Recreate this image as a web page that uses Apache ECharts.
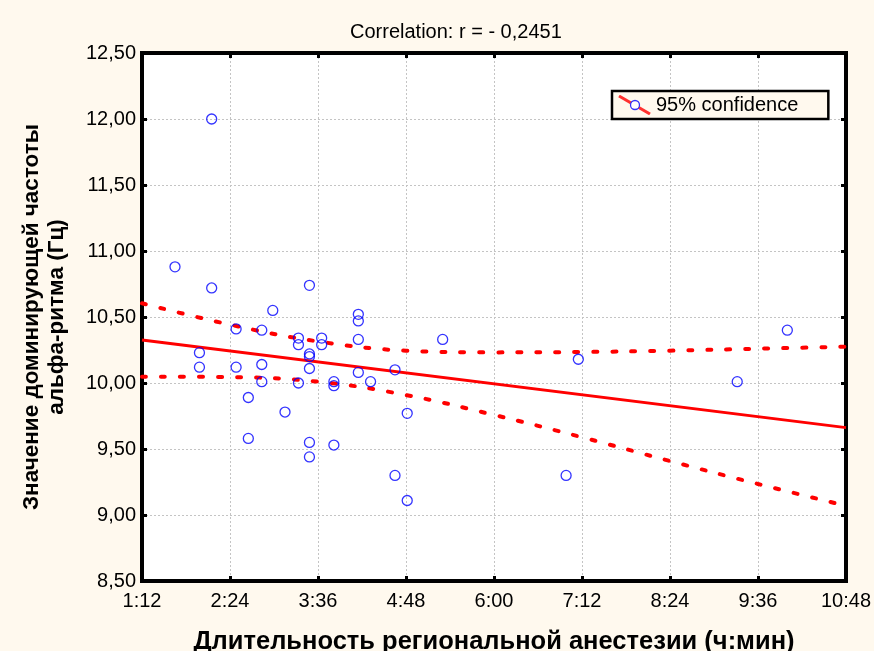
<!DOCTYPE html>
<html>
<head>
<meta charset="utf-8">
<script src="https://cdn.jsdelivr.net/npm/echarts@6/dist/echarts.min.js"></script>
<style>
  html, body { margin: 0; padding: 0; background: #fff9ee; }
  #chart { width: 874px; height: 651px; }
</style>
</head>
<body>
<div id="chart"></div>
<script>
// длительность анестезии в минутах, частота альфа-ритма в Гц
var durationMin = [99, 119, 119, 129, 129, 149, 149, 159, 159, 170, 170, 170, 179, 189, 200, 200, 200,
  209, 209, 209, 209, 209, 209, 219, 219, 229, 229, 229, 249, 249, 249, 249, 259, 279, 279, 289, 289,
  318, 419, 429, 559, 600];
var alphaHz = [10.88, 10.23, 10.12, 12.00, 10.72, 10.41, 10.12, 9.89, 9.58, 10.40, 10.14, 10.01, 10.55,
  9.78, 10.34, 10.29, 10.00, 10.74, 10.22, 10.20, 10.11, 9.55, 9.44, 10.34, 10.29, 10.01, 9.98, 9.53,
  10.52, 10.47, 10.33, 10.08, 10.01, 10.10, 9.30, 9.77, 9.11, 10.33, 9.30, 10.18, 10.01, 10.40];

// линия регрессии и доверительные границы
var fitLine = [[72, 10.325], [648, 9.662]];
var bandX = [72, 144, 216, 288, 360, 432, 504, 576, 648];
var upperBand = [10.604, 10.442, 10.315, 10.245, 10.232, 10.235, 10.245, 10.260, 10.275];
var lowerBand = [10.048, 10.045, 10.010, 9.909, 9.758, 9.589, 9.409, 9.235, 9.070];

var xTicks = ['1:12', '2:24', '3:36', '4:48', '6:00', '7:12', '8:24', '9:36', '10:48'];

var chart = echarts.init(document.getElementById('chart'));

var fmtTime = function (v) {
  var h = Math.floor(v / 60);
  var m = Math.round(v - h * 60);
  return h + ':' + (m < 10 ? '0' + m : m);
};
var pairs = function (xs, ys) {
  return xs.map(function (x, i) { return [x, ys[i]]; });
};

var legendSvg = '<svg xmlns="http://www.w3.org/2000/svg" width="34" height="20" viewBox="0 0 34 20">' +
  '<line x1="2" y1="1" x2="33" y2="19" stroke="#ff0000" stroke-width="3"/>' +
  '<circle cx="18" cy="10" r="4.5" fill="#ffffff" stroke="#0000ff" stroke-width="1.3"/></svg>';

var gridLine = { show: true, lineStyle: { color: '#c4c4c4', width: 1, type: [2, 2] } };
var frame = { show: true, lineStyle: { color: '#000', width: 4 } };
var tick = { show: true, inside: true, length: 5, lineStyle: { color: '#000', width: 3 } };
var font = 'Liberation Sans, Arial, sans-serif';

var option = {
  backgroundColor: '#fff9ee',
  animation: false,
  textStyle: { fontFamily: font, color: '#000' },
  title: {
    text: 'Correlation: r = - 0,2451',
    left: 345,
    top: 17,
    textStyle: { fontSize: 20, fontWeight: 'normal', color: '#000', fontFamily: font }
  },
  legend: {
    left: 612,
    top: 91,
    orient: 'horizontal',
    selectedMode: false,
    backgroundColor: '#fff9ee',
    borderColor: '#000',
    borderWidth: 2.5,
    borderRadius: 0,
    padding: [4, 30, 4, 5],
    itemWidth: 34,
    itemHeight: 20,
    textStyle: { fontSize: 20, color: '#000', fontFamily: font },
    data: [{
      name: '95% confidence',
      icon: 'image://data:image/svg+xml;charset=utf-8,' + encodeURIComponent(legendSvg)
    }]
  },
  grid: {
    left: 142,
    top: 53,
    width: 704,
    height: 528,
    outerBoundsMode: 'none',
    containLabel: false,
    show: true,
    backgroundColor: '#ffffff',
    borderColor: '#000',
    borderWidth: 4
  },
  xAxis: [{
    type: 'value',
    min: 72,
    max: 648,
    interval: 72,
    name: 'Длительность региональной анестезии (ч:мин)',
    nameLocation: 'middle',
    nameGap: 48,
    nameTextStyle: { fontSize: 25.5, fontWeight: 'bold', color: '#000', fontFamily: font },
    axisLine: frame,
    axisTick: tick,
    axisLabel: {
      fontSize: 20, color: '#000', margin: 10,
      formatter: function (v) { return xTicks[Math.round((v - 72) / 72)] || fmtTime(v); }
    },
    splitLine: gridLine
  }, {
    type: 'value',
    position: 'top',
    min: 72,
    max: 648,
    interval: 72,
    axisLine: frame,
    axisTick: tick,
    axisLabel: { show: false },
    splitLine: { show: false }
  }],
  yAxis: [{
    type: 'value',
    min: 8.5,
    max: 12.5,
    interval: 0.5,
    name: 'Значение доминирующей частоты\nальфа-ритма (Гц)',
    nameLocation: 'middle',
    nameGap: 73,
    nameTextStyle: { fontSize: 22.5, fontWeight: 'bold', color: '#000', lineHeight: 25, fontFamily: font },
    axisLine: frame,
    axisTick: tick,
    axisLabel: {
      fontSize: 20, color: '#000', margin: 6,
      formatter: function (v) { return v.toFixed(2).replace('.', ','); }
    },
    splitLine: gridLine
  }, {
    type: 'value',
    position: 'right',
    min: 8.5,
    max: 12.5,
    interval: 0.5,
    axisLine: frame,
    axisTick: tick,
    axisLabel: { show: false },
    splitLine: { show: false }
  }],
  series: [{
    name: 'fit',
    type: 'line',
    data: fitLine,
    symbol: 'none',
    lineStyle: { color: '#ff0000', width: 3 },
    z: 3
  }, {
    name: 'upper',
    type: 'line',
    data: pairs(bandX, upperBand),
    smooth: 0.4,
    symbol: 'none',
    lineStyle: { color: '#ff0000', width: 4, type: [4, 15], cap: 'round' },
    z: 3
  }, {
    name: 'lower',
    type: 'line',
    data: pairs(bandX, lowerBand),
    smooth: 0.4,
    symbol: 'none',
    lineStyle: { color: '#ff0000', width: 4, type: [4, 15], cap: 'round' },
    z: 3
  }, {
    name: '95% confidence',
    type: 'scatter',
    data: pairs(durationMin, alphaHz),
    symbol: 'circle',
    symbolSize: 10,
    itemStyle: { color: 'rgba(255,255,255,0)', borderColor: '#0000ff', borderWidth: 1.3 },
    z: 4
  }]
};

chart.setOption(option);
</script>
</body>
</html>
